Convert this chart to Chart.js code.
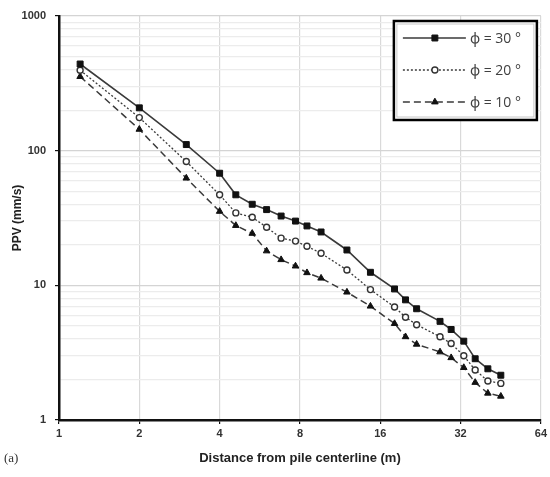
<!DOCTYPE html>
<html>
<head>
<meta charset="utf-8">
<script src="https://cdn.jsdelivr.net/npm/chart.js@4.4.1/dist/chart.umd.min.js"></script>
<style>
  html, body { margin: 0; padding: 0; background: #fff; }
  #wrap { width: 550px; height: 477px; position: relative; }
</style>
</head>
<body>
<div id="wrap"><canvas id="chart"></canvas></div>
<script>
// distance from pile centerline (m)
const distances = [1.2, 2, 3, 4, 4.6, 5.3, 6, 6.8, 7.7, 8.5, 9.6, 12, 14.7, 18.1, 19.9, 21.9, 26.8, 29.5, 32.9, 36.3, 40.5, 45.3];

// PPV (mm/s) per friction angle
const ppv30 = [440, 208, 111, 68, 47, 40, 36.5, 32.7, 30, 27.6, 24.9, 18.3, 12.5, 9.4, 7.8, 6.7, 5.4, 4.7, 3.85, 2.85, 2.4, 2.15];
const ppv20 = [395, 176, 83, 47, 34.5, 32, 27, 22.4, 21.3, 19.5, 17.3, 13, 9.3, 6.9, 5.8, 5.1, 4.15, 3.7, 3.0, 2.35, 1.95, 1.87];
const ppv10 = [355, 144, 62.5, 35.4, 27.8, 24.3, 18, 15.5, 13.9, 12.4, 11.3, 8.9, 7.0, 5.2, 4.15, 3.65, 3.2, 2.9, 2.45, 1.9, 1.58, 1.5];

const seriesLabels = ['ϕ = 30 °', 'ϕ = 20 °', 'ϕ = 10 °'];
const xTicks = [1, 2, 4, 8, 16, 32, 64];
const yTicks = [1, 10, 100, 1000];

const toPoints = (ys) => ys.map((y, i) => ({ x: distances[i], y: y }));

// minor ticks 2..9 inside every decade
const yAllTicks = [];
yTicks.forEach((t, i) => {
    if (i === yTicks.length - 1) { yAllTicks.push(t); return; }
    for (let k = 1; k < 10; k++) yAllTicks.push(t * k);
});

const isMajorY = (v) => yTicks.includes(v);

const lineColor = '#3a3a3a';

// Excel style legend box in the top right corner
const boxLegend = {
    id: 'boxLegend',
    afterDraw(chart) {
        const ctx = chart.ctx;
        const area = chart.chartArea;
        const w = 143, h = 99;
        const left = area.right - w - 4;
        const top = area.top + 5;

        ctx.save();
        ctx.fillStyle = '#fff';
        ctx.fillRect(left, top, w, h);
        ctx.strokeStyle = '#c8c8c8';
        ctx.lineWidth = 1;
        ctx.strokeRect(left + 3, top + 3, w - 6, h - 6);
        ctx.strokeStyle = '#000';
        ctx.lineWidth = 2.5;
        ctx.strokeRect(left, top, w, h);

        chart.data.datasets.forEach((ds, i) => {
            const y = top + 17 + i * 32;
            ctx.strokeStyle = ds.borderColor;
            ctx.lineWidth = ds.borderWidth;
            ctx.setLineDash(ds.borderDash || []);
            ctx.beginPath();
            ctx.moveTo(left + 9, y);
            ctx.lineTo(left + 72, y);
            ctx.stroke();
            ctx.setLineDash([]);

            ctx.fillStyle = ds.pointBackgroundColor;
            ctx.strokeStyle = ds.pointBorderColor;
            ctx.lineWidth = ds.pointBorderWidth;
            Chart.helpers.drawPoint(ctx, {
                pointStyle: ds.pointStyle,
                radius: ds.pointRadius,
                rotation: 0,
                borderWidth: ds.pointBorderWidth
            }, left + 41, y);

            ctx.fillStyle = '#404040';
            ctx.font = '14px "Open Sans", "Noto Sans", sans-serif';
            ctx.textAlign = 'left';
            ctx.textBaseline = 'middle';
            ctx.fillText(ds.label, left + 76, y + 1);
        });

        // panel letter
        ctx.fillStyle = '#333';
        ctx.font = '13px "Liberation Serif", serif';
        ctx.textAlign = 'left';
        ctx.textBaseline = 'middle';
        ctx.fillText('(a)', 4, 459);
        ctx.restore();
    }
};

new Chart(document.getElementById('chart'), {
    type: 'line',
    data: {
        datasets: [{
            label: seriesLabels[0],
            data: toPoints(ppv30),
            borderColor: lineColor,
            borderWidth: 1.6,
            pointStyle: 'rect',
            pointRadius: 4.2,
            pointBackgroundColor: '#111',
            pointBorderColor: '#111',
            pointBorderWidth: 1
        }, {
            label: seriesLabels[1],
            data: toPoints(ppv20),
            borderColor: lineColor,
            borderWidth: 1.3,
            borderDash: [2, 2],
            pointStyle: 'circle',
            pointRadius: 3,
            pointBackgroundColor: '#fff',
            pointBorderColor: '#333',
            pointBorderWidth: 1.4
        }, {
            label: seriesLabels[2],
            data: toPoints(ppv10),
            borderColor: lineColor,
            borderWidth: 1.5,
            borderDash: [7, 4],
            pointStyle: 'triangle',
            pointRadius: 3.8,
            pointBackgroundColor: '#111',
            pointBorderColor: '#111',
            pointBorderWidth: 1
        }]
    },
    options: {
        responsive: true,
        maintainAspectRatio: false,
        animation: false,
        layout: { padding: { top: 16, right: 7, left: 0, bottom: 0 } },
        plugins: {
            legend: { display: false },
            tooltip: { enabled: false }
        },
        scales: {
            x: {
                type: 'logarithmic',
                min: 1,
                max: 64,
                afterBuildTicks: (axis) => { axis.ticks = xTicks.map(v => ({ value: v })); },
                afterFit: (axis) => { axis.height = 57; },
                ticks: {
                    autoSkip: false,
                    maxRotation: 0,
                    padding: 3,
                    color: '#333',
                    font: { family: '"Liberation Sans", Arial, sans-serif', size: 11, weight: 'bold' },
                    callback: (v) => String(v)
                },
                grid: { color: '#d9d9d9', lineWidth: 1.2, tickColor: '#111', tickLength: 4 },
                border: { color: '#111', width: 2.5 },
                title: {
                    display: true,
                    text: 'Distance from pile centerline (m)',
                    color: '#222',
                    font: { family: '"Liberation Sans", Arial, sans-serif', size: 13, weight: 'bold' },
                    padding: { top: 0, bottom: 11 }
                }
            },
            y: {
                type: 'logarithmic',
                min: 1,
                max: 1000,
                afterBuildTicks: (axis) => { axis.ticks = yAllTicks.map(v => ({ value: v })); },
                afterFit: (axis) => { axis.width = 59; },
                ticks: {
                    autoSkip: false,
                    padding: 9,
                    color: '#333',
                    font: { family: '"Liberation Sans", Arial, sans-serif', size: 11, weight: 'bold' },
                    callback: (v) => isMajorY(v) ? String(v) : ''
                },
                grid: {
                    color: (c) => isMajorY(c.tick.value) ? '#d4d4d4' : '#ececec',
                    lineWidth: 1.2,
                    tickColor: (c) => isMajorY(c.tick.value) ? '#111' : 'rgba(0,0,0,0)',
                    tickLength: 4
                },
                border: { color: '#111', width: 2.5 },
                title: {
                    display: true,
                    text: 'PPV (mm/s)',
                    color: '#222',
                    font: { family: '"Liberation Sans", Arial, sans-serif', size: 12, weight: 'bold' },
                    padding: { top: 10, bottom: 0 }
                }
            }
        }
    },
    plugins: [boxLegend]
});
</script>
</body>
</html>
